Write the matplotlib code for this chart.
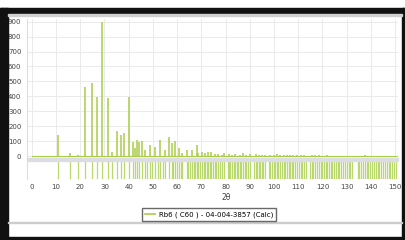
import matplotlib.pyplot as plt
from matplotlib.patches import Rectangle

# Calculated pattern: peak position (2theta) and intensity
peak_pos = [10.9, 15.7, 19.2, 22.1, 24.7, 26.9, 29.1, 31.3, 33.1, 35.0, 36.8, 38.2,
            40.1, 41.9, 42.6, 43.4, 44.3, 45.3, 46.7, 48.8, 50.8, 52.9, 55.0, 56.6,
            57.7, 59.3, 60.9, 62.2, 63.9, 66.0, 68.1, 68.7, 70.2, 71.5, 72.8, 74.0,
            75.5, 77.0, 78.4, 79.5, 81.5, 82.6, 84.0, 85.8, 87.3, 88.5, 90.0, 92.5,
            93.8, 95.0, 96.3, 98.5, 99.8, 101.2, 102.5, 104.0, 105.3, 106.8, 108.0,
            109.5, 111.0, 112.5, 115.5, 117.0, 118.5, 120.0, 122.0, 124.0, 137.6]
peak_int = [141, 22, 6, 465, 488, 398, 900, 387, 30, 170, 141, 152,
            398, 96, 54, 107, 96, 103, 40, 74, 60, 107, 40, 125,
            87, 100, 54, 20, 40, 40, 74, 20, 30, 22, 30, 25,
            12, 15, 10, 18, 12, 8, 15, 10, 20, 8, 12, 15,
            8, 10, 6, 10, 8, 12, 6, 8, 5, 7, 5,
            6, 4, 5, 4, 6, 4, 3, 8, 3, 6]

# Reference stick positions (lower panel)
stick_pos = [10.9, 15.7, 19.2, 22.1, 24.7, 26.9, 29.1, 31.3, 33.1, 35.0, 36.8, 38.2,
             40.1, 41.9, 42.6, 43.4, 44.3, 45.3, 46.7, 47.6, 48.8, 49.7, 50.8, 51.9,
             52.9, 54.0, 55.0, 56.6, 57.7, 58.4, 59.3, 60.1, 60.9, 61.6, 62.2, 63.9,
             64.6, 65.3, 66.0, 66.8, 67.4, 68.1, 68.7, 69.4, 70.2, 70.9, 71.5, 72.2,
             72.8, 73.4, 74.0, 74.7, 75.5, 76.2, 77.0, 77.6, 78.4, 79.5, 80.8, 81.5,
             82.0, 82.6, 83.3, 84.0, 84.6, 85.2, 85.8, 86.5, 87.3, 87.9, 88.5, 89.2,
             90.0, 91.8, 92.5, 93.1, 93.8, 94.4, 95.0, 95.6, 96.3, 97.8, 98.5, 99.1,
             99.8, 100.5, 101.2, 101.8, 102.5, 103.2, 104.0, 104.6, 105.3, 106.0,
             106.8, 107.4, 108.0, 108.7, 109.5, 110.2, 111.0, 111.6, 112.5, 113.3,
             114.8, 115.5, 116.2, 117.0, 117.7, 118.5, 119.2, 120.0, 120.7, 121.4,
             122.0, 122.8, 123.5, 124.0, 124.8, 125.5, 126.3, 127.0, 127.8, 128.5,
             129.2, 130.0, 130.8, 131.5, 132.3, 134.5, 135.2, 136.0, 136.8, 137.6,
             138.3, 139.0, 139.8, 140.5, 141.3, 142.0, 142.8, 143.5, 144.3, 145.0,
             145.8, 146.5, 147.3, 148.0, 148.8, 149.5, 150.3]

y_ticks = [0, 100, 200, 300, 400, 500, 600, 700, 800, 900]
x_ticks = [0, 10, 20, 30, 40, 50, 60, 70, 80, 90, 100, 110, 120, 130, 140, 150]

green = "#a9cd48"
W, H = 406, 240

fig = plt.figure(figsize=(W / 100, H / 100), dpi=100, facecolor="white")

def fx(px):
    return px / W

def fy(py):
    return 1 - py / H

# main panel
ax = fig.add_axes([fx(27), fy(158), fx(398) - fx(27), fy(19) - fy(158)])
ax.vlines(peak_pos, 0, peak_int, color=green, lw=1.1)
ax.axhline(0, xmin=0.013, color=green, lw=0.8)
ax.set_xlim(-2, 151.2)
ax.set_ylim(-13, 918)
ax.set_yticks(y_ticks)
ax.set_xticks(x_ticks)
ax.set_xticklabels([])
ax.tick_params(length=0, labelsize=5, colors="#444444", pad=4)
ax.grid(color="#e8e8e8", lw=0.6)
ax.set_axisbelow(True)
for s in ax.spines.values():
    s.set_visible(False)
ax.spines["left"].set_visible(True)
ax.spines["left"].set_color("#dddddd")

# separator band
fig.patches.append(Rectangle((fx(27), fy(161)), fx(398) - fx(27), fy(158) - fy(161),
                             transform=fig.transFigure, color="#dcdce4", zorder=1))

# stick panel
ax2 = fig.add_axes([fx(27), fy(179), fx(398) - fx(27), fy(161) - fy(179)])
ax2.vlines(stick_pos, 0, 1, color="#b9d86e", lw=0.9)
ax2.set_xlim(-2, 151.2)
ax2.set_ylim(0, 1)
ax2.set_yticks([])
ax2.set_xticks(x_ticks)
ax2.tick_params(length=0, labelsize=5, colors="#444444", pad=3.5)
for s in ax2.spines.values():
    s.set_visible(False)
ax2.spines["left"].set_visible(True)
ax2.spines["left"].set_color("#dddddd")

fig.text(fx(226), fy(198), "2θ", fontsize=5.5, color="#444444", ha="center", va="center")

# legend
h, = ax.plot([], [], color=green, lw=1.2)
fig.legend([h], ["Rb6 ( C60 ) - 04-004-3857 (Calc)"], loc="center",
           bbox_to_anchor=(fx(209), fy(214.5)), fontsize=5, frameon=True,
           fancybox=False, edgecolor="#444444", handlelength=1.5,
           borderpad=0.4, handletextpad=0.5)

# outer frame
for (x0, y0, x1, y1, c) in [(0, 8, 406, 14, "#111111"), (0, 8, 8, 240, "#111111"),
                            (402, 8, 406, 240, "#111111"), (0, 237, 406, 240, "#111111"),
                            (8, 14, 402, 16, "#d0d0d0"), (8, 222, 402, 223, "#cccccc")]:
    fig.patches.append(Rectangle((fx(x0), fy(y1)), fx(x1) - fx(x0), fy(y0) - fy(y1),
                                 transform=fig.transFigure, color=c, zorder=5))

fig.savefig("out.png", dpi=100, facecolor=fig.get_facecolor())
